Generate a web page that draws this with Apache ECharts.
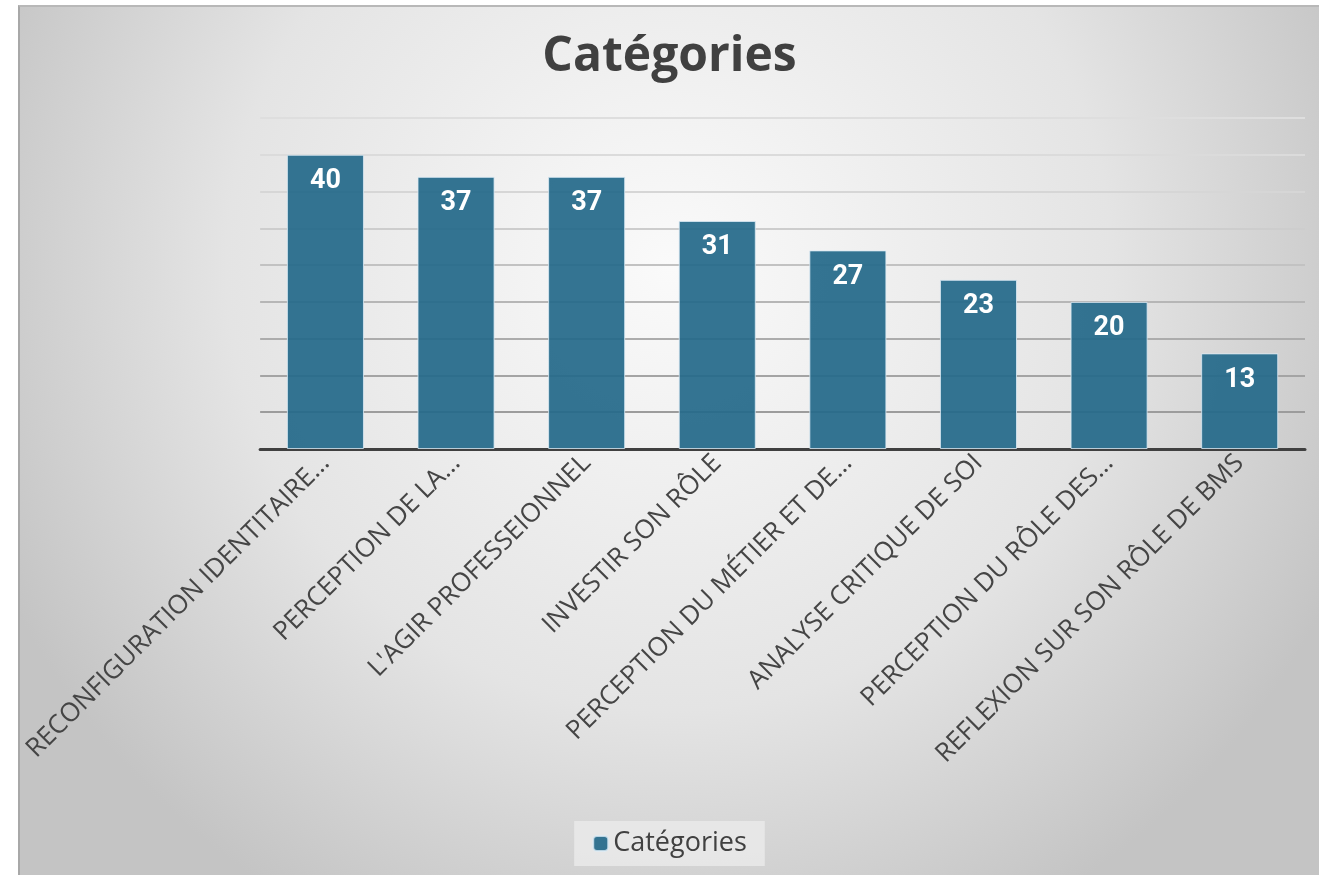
<!DOCTYPE html>
<html>
<head>
<meta charset="utf-8">
<script src="https://cdn.jsdelivr.net/npm/echarts@6/dist/echarts.min.js"></script>
<style>
  html, body { margin: 0; padding: 0; background: #ffffff; }
  #main {
    position: absolute; left: 18px; top: 5px;
    width: 1301px; height: 870px;
    border-left: 2px solid #a8a8a8; border-top: 2px solid #b8b8b8;
    box-sizing: border-box;
  }
</style>
</head>
<body>
<div id="main"></div>
<script>
// catégories et valeurs
var categories = [
    'RECONFIGURATION IDENTITAIRE…',
    'PERCEPTION DE LA…',
    "L'AGIR PROFESSEIONNEL",
    'INVESTIR SON RÔLE',
    'PERCEPTION DU MÉTIER ET DE…',
    'ANALYSE CRITIQUE DE SOI',
    'PERCEPTION DU RÔLE DES…',
    'REFLEXION SUR SON RÔLE DE BMS'
];
var values = [40, 37, 37, 31, 27, 23, 20, 13];
var seriesName = 'Catégories';

function echartData (id, option) {
    var myChart = echarts.init(document.getElementById(id));
    myChart.setOption(option);
}

var option1 = {
    backgroundColor: {
        type: 'radial', x: 0.5, y: 0.3, r: 0.85,
        colorStops: [
            { offset: 0, color: '#fafafa' },
            { offset: 0.6, color: '#e4e4e4' },
            { offset: 1, color: '#c4c4c4' }
        ]
    },
    textStyle: { fontFamily: 'Open Sans' },
    title: {
        text: 'Catégories',
        left: 'center',
        top: 21,
        textStyle: { fontSize: 48, fontWeight: 'bold', color: '#404040', fontFamily: 'Open Sans' }
    },
    legend: {
        bottom: 9,
        left: 'center',
        data: [seriesName],
        itemWidth: 15, itemHeight: 15,
        itemGap: 6,
        padding: [9, 18],
        backgroundColor: 'rgba(235,235,235,0.8)',
        textStyle: { fontSize: 27, color: '#404040', fontFamily: 'Open Sans' }
    },
    grid: { left: 236, right: 14, top: 111, bottom: 426 },
    xAxis: {
        type: 'category',
        data: categories,
        axisLine: { lineStyle: { color: '#404040', width: 3 } },
        axisTick: { show: false },
        axisLabel: { rotate: 45, fontSize: 26, color: '#454545', margin: 10, interval: 0, fontFamily: 'Open Sans' }
    },
    yAxis: {
        type: 'value',
        min: 0, max: 45, interval: 5,
        axisLabel: { show: false },
        axisLine: { show: false },
        axisTick: { show: false },
        splitLine: {
            lineStyle: {
                width: 2,
                color: ['#8c8c8c', '#9c9c9c', '#a4a4a4', '#acacac', '#b6b6b6',
                        '#c2c2c2', '#cdcdcd', '#d6d6d6', '#dbdbdb', '#dedede']
            }
        }
    },
    series: [{
        name: seriesName,
        type: 'bar',
        data: values,
        barWidth: '59%',
        itemStyle: {
            color: 'rgba(37,105,138,0.93)',
            borderColor: 'rgba(220,235,245,0.8)',
            borderWidth: 1
        },
        label: {
            show: true,
            position: 'insideTop',
            distance: 13,
            fontSize: 27,
            fontWeight: 'bold',
            color: '#ffffff',
            fontFamily: 'Roboto'
        }
    }]
};

echartData('main', option1);
</script>
</body>
</html>
